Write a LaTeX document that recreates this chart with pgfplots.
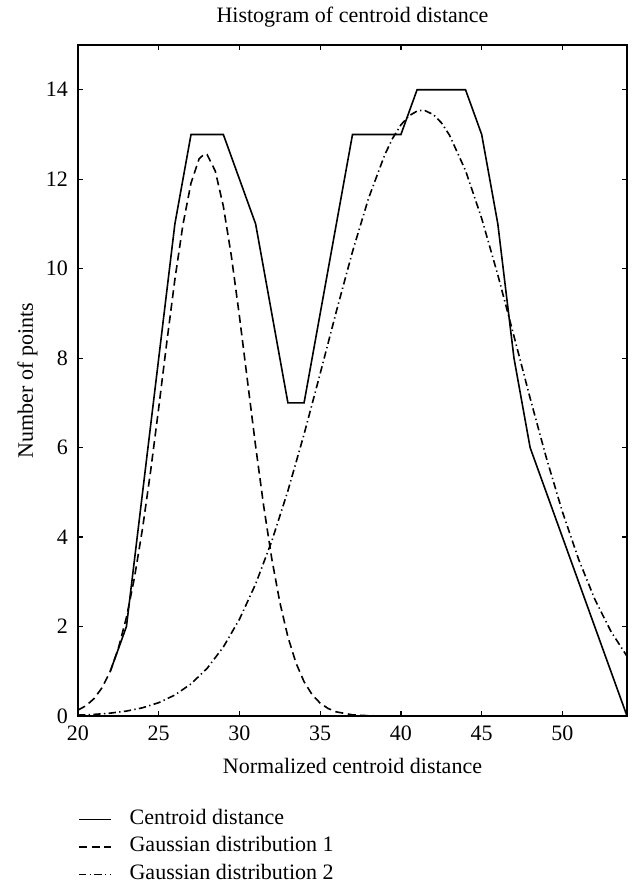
\documentclass[border=0pt]{standalone}
\usepackage{fontspec}
\setmainfont{Liberation Serif}
\usepackage{pgfplots}
\pgfplotsset{compat=1.18}
\begin{document}
\begin{tikzpicture}[font=\fontsize{16.5}{19.8}\selectfont]
\useasboundingbox (-58.5pt,-132pt) rectangle (423pt,537pt);
\begin{axis}[
  at={(0pt,0pt)}, anchor=south west,
  scale only axis, width=411.75pt, height=503.25pt,
  xmin=20, xmax=54, ymin=0, ymax=15,
  xtick={20,25,...,50}, ytick={0,2,...,14},
  /pgf/number format/assume math mode=true,
  tick align=inside, major tick length=4pt,
  axis line style={line width=1.3pt},
  every tick/.style={line width=0.9pt, black},
  xticklabel style={anchor=base, yshift=-18.5pt},
  yticklabel style={anchor=east, inner sep=0pt, xshift=-7.3pt},
  title={Histogram of centroid distance},
  title style={at={(axis description cs:0.5,1.0213)}, anchor=base, inner sep=0pt},
  xlabel={Normalized centroid distance},
  xlabel style={at={(axis description cs:0.5,-0.0864)}, anchor=base, inner sep=0pt},
  ylabel={Number of points},
  ylabel style={at={(axis description cs:-0.082,0.5)}, anchor=base, inner sep=0pt},
  legend style={draw=none, fill=none, at={(axis description cs:0,-0.1391)}, anchor=north west,
    inner xsep=0pt, inner ysep=0pt, row sep=5.6pt, column sep=13.3pt,
    nodes={inner sep=0pt, text height=11pt, text depth=4pt}},
  legend cell align=left,
  legend image code/.code={\draw[#1] (0pt,0pt) -- (24pt,0pt);},
]
\addplot[black, line width=1.2pt] coordinates {
(22,1) (23,2) (26,11) (27,13) (29,13) (31,11) (33,7) (34,7) (37,13) (40,13)
(41,14) (44,14) (45,13) (46,11) (47,8) (48,6) (54,0)};
\addlegendentry{Centroid distance}
\addplot[black, line width=1.2pt, dash pattern=on 6pt off 3.5pt] coordinates {
(20,0.132) (20.5,0.231) (21,0.391) (21.5,0.637) (22,1.000) (22.5,1.514) (23,2.206)
(23.5,3.100) (24,4.200) (24.5,5.481) (25,6.893) (25.5,8.356) (26,9.760) (26.5,10.985)
(27,11.916) (27.5,12.457) (27.85,12.57) (28,12.549) (28.5,12.183) (29,11.399) (29.5,10.277)
(30,8.930) (30.5,7.478) (31,6.034) (31.5,4.692) (32,3.517) (32.5,2.540) (33,1.768)
(33.5,1.185) (34,0.767) (34.5,0.477) (35,0.287) (35.5,0.166) (36,0.092) (37,0.026)
(38,0.006) (39,0.001) (40,0) (54,0)};
\addlegendentry{Gaussian distribution 1}
\addplot[black, line width=1.2pt, dash pattern=on 5.5pt off 2.5pt on 1pt off 2.5pt] coordinates {
(20,0.020) (21,0.036) (22,0.064) (23,0.110) (24,0.184) (25,0.298) (26,0.469) (27,0.718)
(28,1.067) (29,1.541) (30,2.164) (31,2.950) (32,3.909) (33,5.034) (34,6.298) (35,7.657)
(36,9.045) (37,10.381) (38,11.579) (39,12.549) (39.5,12.924) (40,13.215) (40.5,13.417)
(41,13.523) (41.3,13.54) (41.5,13.532) (42,13.445) (42.5,13.263) (43,12.989) (44,12.194)
(45,11.123) (46,9.859) (47,8.491) (48,7.106) (49,5.778) (50,4.565) (51,3.506) (52,2.615)
(53,1.895) (54,1.335)};
\addlegendentry{Gaussian distribution 2}
\end{axis}
\end{tikzpicture}
\end{document}
